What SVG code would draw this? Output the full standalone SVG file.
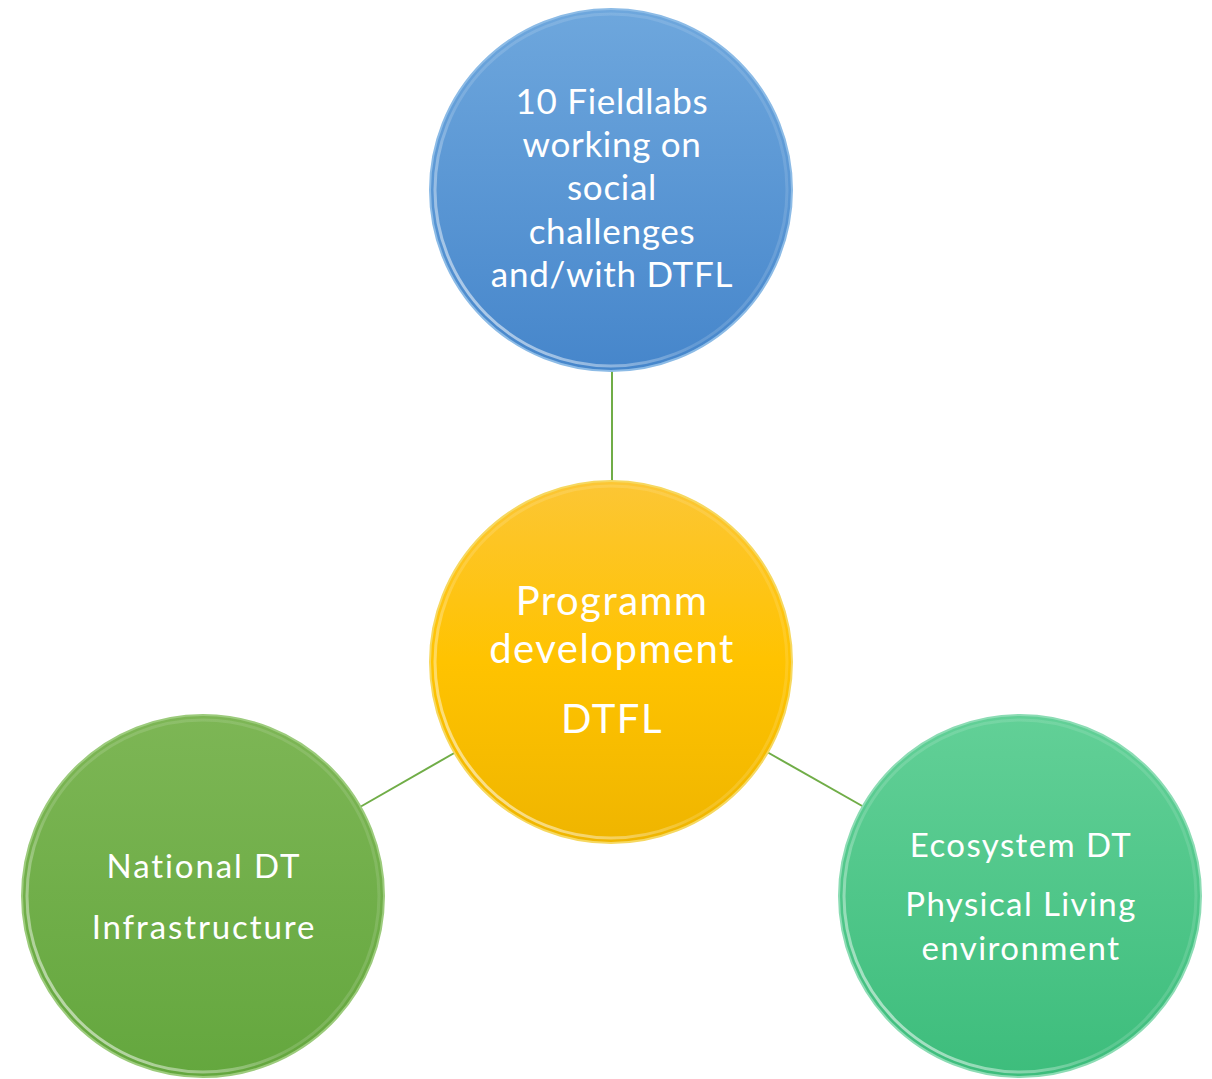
<svg xmlns="http://www.w3.org/2000/svg" width="1212" height="1079" viewBox="0 0 1212 1079">
<defs>
<style>
.lbl{font-family:Lato,"Open Sans","Liberation Sans",sans-serif;fill:#ffffff;text-anchor:middle}
.conn{stroke:#70ad47;stroke-width:2;fill:none}
.rim{fill:none;stroke-width:3}
</style>
<linearGradient id="gBlue" x1="0" y1="0" x2="0" y2="1">
<stop offset="0" stop-color="#6ea7dd"/><stop offset="1" stop-color="#4686cb"/>
</linearGradient>
<linearGradient id="gYellow" x1="0" y1="0" x2="0" y2="1">
<stop offset="0" stop-color="#fcc635"/><stop offset="0.5" stop-color="#ffc300"/><stop offset="1" stop-color="#efb500"/>
</linearGradient>
<linearGradient id="gGreen" x1="0" y1="0" x2="0" y2="1">
<stop offset="0" stop-color="#7db655"/><stop offset="1" stop-color="#64a73e"/>
</linearGradient>
<linearGradient id="gTeal" x1="0" y1="0" x2="0" y2="1">
<stop offset="0" stop-color="#62d097"/><stop offset="1" stop-color="#3dbd7c"/>
</linearGradient>
<linearGradient id="rimHi" x1="1" y1="0" x2="0" y2="1">
<stop offset="0" stop-color="#ffffff" stop-opacity="0.1"/><stop offset="0.6" stop-color="#ffffff" stop-opacity="0.15"/><stop offset="1" stop-color="#ffffff" stop-opacity="0.75"/>
</linearGradient>
</defs>
<rect width="1212" height="1079" fill="#ffffff"/>
<g id="connectors">
<line class="conn" x1="612" y1="370" x2="612" y2="484"/>
<line class="conn" x1="456" y1="752" x2="360" y2="807"/>
<line class="conn" x1="767" y1="752" x2="864" y2="807"/>
</g>
<g id="node-fieldlabs">
<circle cx="611" cy="190" r="181" fill="url(#gBlue)" stroke="#8cbbe6" stroke-width="2"/>
<circle class="rim" cx="611" cy="190" r="176" stroke="url(#rimHi)"/>
<text class="lbl" font-size="35" letter-spacing="0.7"><tspan x="612" y="114">10 Fieldlabs</tspan><tspan x="612" y="157">working on</tspan><tspan x="612" y="200">social</tspan><tspan x="612" y="244">challenges</tspan><tspan x="612" y="287">and/with DTFL</tspan></text>
</g>
<g id="node-programm">
<circle cx="611" cy="662" r="181" fill="url(#gYellow)" stroke="#f6d860" stroke-width="2"/>
<circle class="rim" cx="611" cy="662" r="176" stroke="url(#rimHi)"/>
<text class="lbl" font-size="40" letter-spacing="1.5"><tspan x="612" y="615">Programm</tspan><tspan x="612" y="663">development</tspan><tspan x="612" y="733">DTFL</tspan></text>
</g>
<g id="node-national">
<circle cx="203" cy="896" r="181" fill="url(#gGreen)" stroke="#9ccb7c" stroke-width="2"/>
<circle class="rim" cx="203" cy="896" r="176" stroke="url(#rimHi)"/>
<text class="lbl" font-size="33" letter-spacing="1.9"><tspan x="204" y="878">National DT</tspan><tspan x="204" y="939">Infrastructure</tspan></text>
</g>
<g id="node-ecosystem">
<circle cx="1020" cy="896" r="181" fill="url(#gTeal)" stroke="#8cdcb4" stroke-width="2"/>
<circle class="rim" cx="1020" cy="896" r="176" stroke="url(#rimHi)"/>
<text class="lbl" font-size="33" letter-spacing="1.4"><tspan x="1021" y="857">Ecosystem DT</tspan><tspan x="1021" y="916">Physical Living</tspan><tspan x="1021" y="960">environment</tspan></text>
</g>
</svg>
